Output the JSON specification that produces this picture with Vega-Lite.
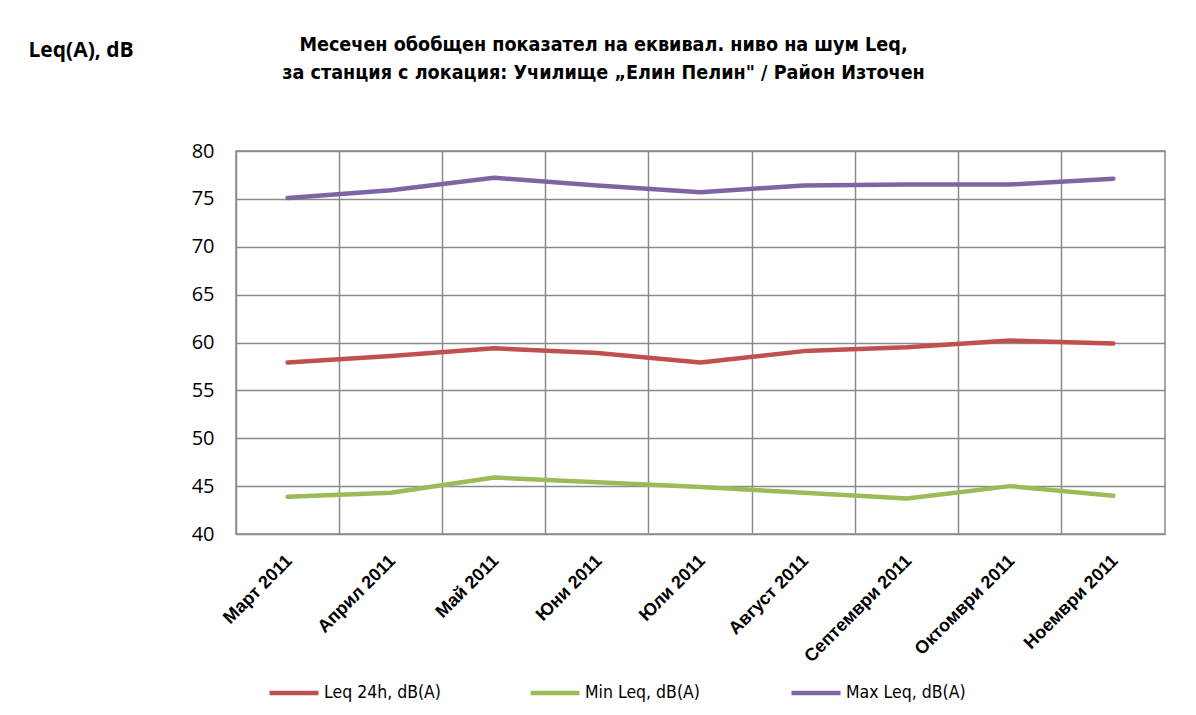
{
  "$schema": "https://vega.github.io/schema/vega-lite/v6.json",
  "width": 929,
  "height": 383,
  "autosize": {"type": "none"},
  "padding": {"left": 236, "top": 151, "right": 31, "bottom": 181},
  "background": "white",
  "title": {
    "text": ["Месечен обобщен показател на еквивал. ниво на шум Leq,", "за станция с локация: Училище „Елин Пелин\" / Район Източен"],
    "font": "DejaVu Sans Condensed, Liberation Sans",
    "fontSize": 19.6,
    "fontWeight": "bold",
    "color": "#000000",
    "anchor": "middle",
    "frame": "group",
    "dx": -97,
    "offset": -45,
    "lineHeight": 28
  },
  "data": {
    "values": [
      {"month": "Март 2011", "series": "Leq 24h, dB(A)", "value": 57.9},
      {"month": "Април 2011", "series": "Leq 24h, dB(A)", "value": 58.6},
      {"month": "Май 2011", "series": "Leq 24h, dB(A)", "value": 59.4},
      {"month": "Юни 2011", "series": "Leq 24h, dB(A)", "value": 58.9},
      {"month": "Юли 2011", "series": "Leq 24h, dB(A)", "value": 57.9},
      {"month": "Август 2011", "series": "Leq 24h, dB(A)", "value": 59.1},
      {"month": "Септември 2011", "series": "Leq 24h, dB(A)", "value": 59.5},
      {"month": "Октомври 2011", "series": "Leq 24h, dB(A)", "value": 60.2},
      {"month": "Ноември 2011", "series": "Leq 24h, dB(A)", "value": 59.9},
      {"month": "Март 2011", "series": "Min Leq, dB(A)", "value": 43.9},
      {"month": "Април 2011", "series": "Min Leq, dB(A)", "value": 44.3},
      {"month": "Май 2011", "series": "Min Leq, dB(A)", "value": 45.9},
      {"month": "Юни 2011", "series": "Min Leq, dB(A)", "value": 45.4},
      {"month": "Юли 2011", "series": "Min Leq, dB(A)", "value": 44.9},
      {"month": "Август 2011", "series": "Min Leq, dB(A)", "value": 44.3},
      {"month": "Септември 2011", "series": "Min Leq, dB(A)", "value": 43.7},
      {"month": "Октомври 2011", "series": "Min Leq, dB(A)", "value": 45.0},
      {"month": "Ноември 2011", "series": "Min Leq, dB(A)", "value": 44.0},
      {"month": "Март 2011", "series": "Max Leq, dB(A)", "value": 75.1},
      {"month": "Април 2011", "series": "Max Leq, dB(A)", "value": 75.9},
      {"month": "Май 2011", "series": "Max Leq, dB(A)", "value": 77.2},
      {"month": "Юни 2011", "series": "Max Leq, dB(A)", "value": 76.4},
      {"month": "Юли 2011", "series": "Max Leq, dB(A)", "value": 75.7},
      {"month": "Август 2011", "series": "Max Leq, dB(A)", "value": 76.4},
      {"month": "Септември 2011", "series": "Max Leq, dB(A)", "value": 76.5},
      {"month": "Октомври 2011", "series": "Max Leq, dB(A)", "value": 76.5},
      {"month": "Ноември 2011", "series": "Max Leq, dB(A)", "value": 77.1}
    ]
  },
  "mark": {"type": "line", "strokeWidth": 4.5, "strokeCap": "round", "strokeJoin": "round"},
  "encoding": {
    "x": {
      "field": "month",
      "type": "nominal",
      "sort": ["Март 2011", "Април 2011", "Май 2011", "Юни 2011", "Юли 2011", "Август 2011", "Септември 2011", "Октомври 2011", "Ноември 2011"],
      "scale": {"type": "band", "paddingInner": 0, "paddingOuter": 0},
      "bandPosition": 0.5,
      "axis": {
        "title": null,
        "bandPosition": 0,
        "labelOffset": 2,
        "labelAngle": -45,
        "labelAlign": "right",
        "labelBaseline": "middle",
        "labelPadding": 24,
        "labelFont": "Liberation Sans",
        "labelFontWeight": "bold",
        "labelFontSize": 18,
        "labelColor": "#000000",
        "labelLimit": 300,
        "ticks": false,
        "domain": false,
        "grid": true,
        "gridColor": "#8a8a8a",
        "gridWidth": 1.5
      }
    },
    "y": {
      "field": "value",
      "type": "quantitative",
      "scale": {"domain": [40, 80], "nice": false, "zero": false},
      "axis": {
        "values": [40, 45, 50, 55, 60, 65, 70, 75, 80],
        "title": "Leq(A), dB",
        "titleAngle": 0,
        "titleAlign": "left",
        "titleBaseline": "middle",
        "titleX": -208,
        "titleY": -101,
        "titleFont": "Open Sans",
        "titleFontWeight": "bold",
        "titleFontSize": 21,
        "titleColor": "#000000",
        "labelFont": "Open Sans",
        "labelFontSize": 20,
        "labelColor": "#000000",
        "labelPadding": 22,
        "ticks": false,
        "domain": false,
        "grid": true,
        "gridColor": "#8a8a8a",
        "gridWidth": 1.5
      }
    },
    "color": {
      "field": "series",
      "type": "nominal",
      "sort": ["Leq 24h, dB(A)", "Min Leq, dB(A)", "Max Leq, dB(A)"],
      "scale": {
        "domain": ["Leq 24h, dB(A)", "Min Leq, dB(A)", "Max Leq, dB(A)"],
        "range": ["#C0504D", "#9BBB59", "#8064A2"]
      },
      "legend": {
        "title": null,
        "orient": "none",
        "direction": "horizontal",
        "columns": 3,
        "legendX": 31,
        "legendY": 515,
        "symbolType": "stroke",
        "symbolSize": 2401,
        "symbolStrokeWidth": 4.5,
        "labelFont": "DejaVu Sans Condensed, Liberation Sans",
        "labelFontSize": 17.5,
        "labelColor": "#000000",
        "labelOffset": 3,
        "labelLimit": 300,
        "columnPadding": 77,
        "gridAlign": "all"
      }
    }
  },
  "config": {
    "view": {"stroke": "#8a8a8a", "strokeWidth": 1.5}
  }
}
